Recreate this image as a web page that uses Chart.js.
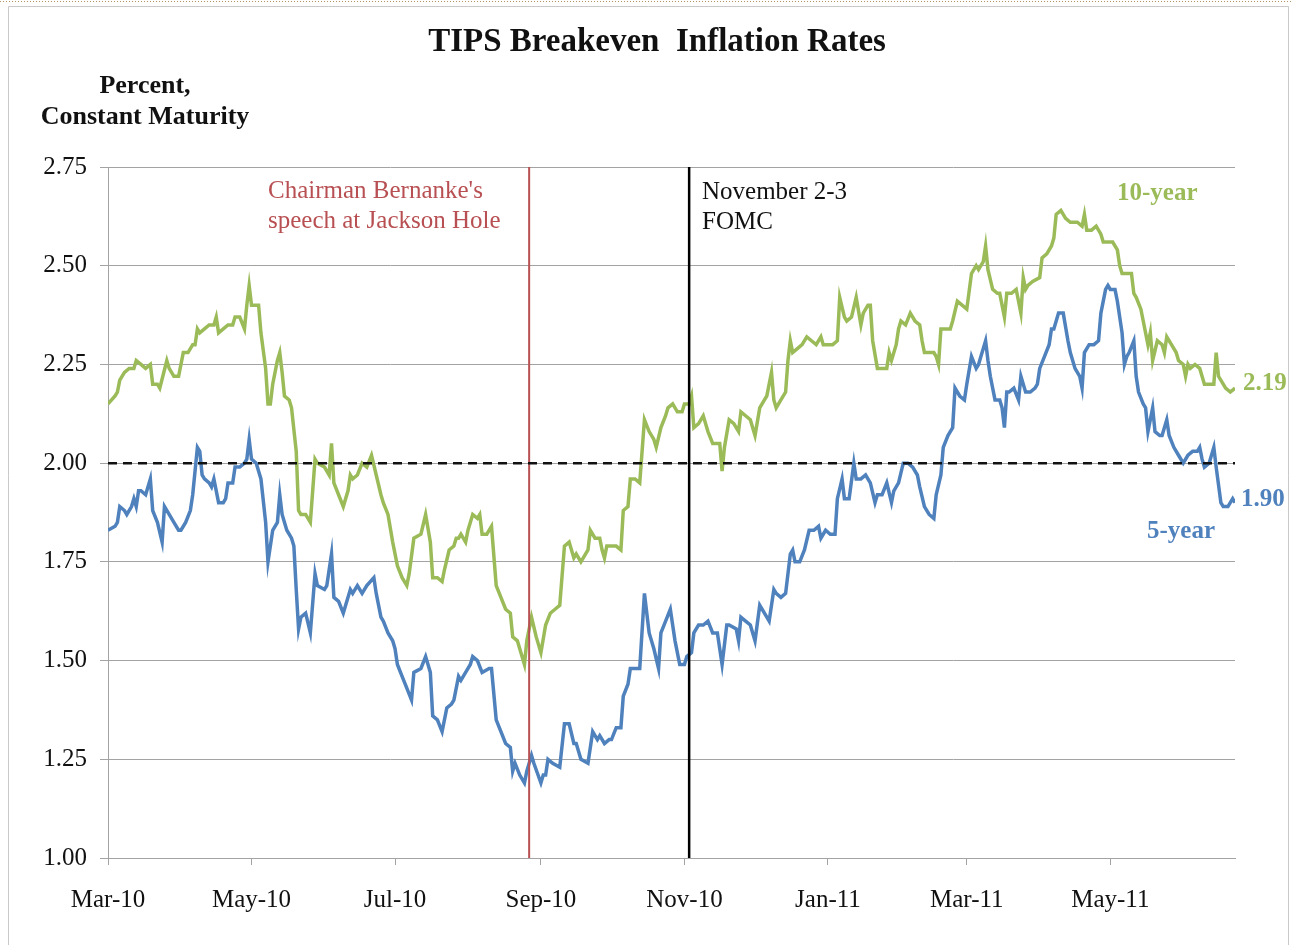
<!DOCTYPE html>
<html>
<head>
<meta charset="utf-8">
<title>TIPS Breakeven Inflation Rates</title>
<script src="https://cdn.jsdelivr.net/npm/chart.js@4.4.1/dist/chart.umd.min.js"></script>
<style>
    html, body { margin: 0; padding: 0; background: #fff; overflow: hidden; }
    #wrap { position: relative; width: 1293px; height: 945px; }
</style>
</head>
<body>
<div id="wrap"><canvas id="tipsChart"></canvas></div>
<script>
// Days are counted from 1 Mar 2010
const tickDays = [0, 61, 122, 184, 245, 306, 365, 426];
const tickLabels = ['Mar-10', 'May-10', 'Jul-10', 'Sep-10', 'Nov-10', 'Jan-11', 'Mar-11', 'May-11'];
const yMin = 1.00;
const yMax = 2.75;
const yStep = 0.25;
const lastDay = 479;

// 10-year breakeven
const tenYearDays = [0,3,4,5,7,9,11,12,14,16,18,19,21,22,25,26,28,30,32,34,36,37,38,39,41,43,45,46,47,49,
    51,53,54,56,58,59,60,61,62,64,65,67,68,69,70,72,73,74,75,77,78,80,81,82,84,86,88,89,92,94,
    95,96,98,100,102,103,104,106,108,110,112,114,116,117,119,121,123,125,127,128,130,133,135,137,138,140,142,143,145,147,
    148,149,150,152,153,155,157,158,159,161,163,165,167,169,171,172,174,175,177,178,180,182,184,186,188,190,192,194,196,198,
    199,201,204,205,207,209,210,211,212,214,216,218,219,221,222,224,226,228,230,232,233,235,237,238,240,242,244,245,247,248,
    249,251,253,255,257,259,260,261,262,264,266,268,269,271,273,275,277,279,280,282,283,284,286,288,289,290,291,293,295,297,
    299,301,303,304,306,308,310,311,313,314,316,318,320,321,323,324,325,327,328,330,331,332,333,335,336,337,339,341,343,345,
    346,347,349,351,352,353,354,356,358,359,361,363,365,367,369,370,372,373,374,376,378,379,381,382,384,386,388,389,390,391,
    393,396,397,399,401,402,403,405,407,409,410,412,414,415,416,418,420,422,423,425,427,429,430,431,433,435,436,437,439,440,
    441,442,443,444,446,448,449,450,452,454,455,457,458,459,460,462,464,465,466,469,470,471,472,474,475,477,479];
const tenYearValues = [2.15,2.17,2.18,2.21,2.23,2.24,2.24,2.26,2.25,2.24,2.25,2.20,2.20,2.19,2.26,2.24,2.22,2.22,2.28,2.28,2.30,2.30,2.34,2.33,2.34,2.35,2.35,2.37,2.33,2.34,
    2.35,2.35,2.37,2.37,2.34,2.40,2.45,2.40,2.40,2.40,2.33,2.24,2.15,2.15,2.20,2.26,2.28,2.23,2.17,2.16,2.14,2.03,1.88,1.87,1.87,1.85,2.01,2.00,1.99,1.97,
    2.05,1.95,1.92,1.89,1.93,1.97,1.96,1.97,2.00,1.99,2.02,1.97,1.92,1.90,1.87,1.80,1.74,1.71,1.69,1.72,1.81,1.82,1.87,1.80,1.71,1.71,1.70,1.73,1.78,1.79,
    1.81,1.81,1.82,1.80,1.83,1.87,1.86,1.87,1.82,1.82,1.84,1.69,1.66,1.63,1.62,1.56,1.55,1.53,1.49,1.55,1.61,1.56,1.52,1.59,1.62,1.63,1.64,1.79,1.80,1.76,
    1.77,1.75,1.78,1.83,1.81,1.81,1.78,1.76,1.79,1.79,1.79,1.78,1.88,1.89,1.96,1.96,1.95,2.11,2.08,2.06,2.04,2.09,2.12,2.14,2.15,2.13,2.13,2.15,2.15,2.17,
    2.09,2.10,2.12,2.08,2.05,2.05,2.05,1.98,2.04,2.11,2.10,2.08,2.13,2.12,2.11,2.07,2.14,2.16,2.17,2.23,2.16,2.14,2.16,2.18,2.26,2.31,2.28,2.29,2.30,2.32,
    2.31,2.30,2.32,2.30,2.30,2.30,2.31,2.42,2.37,2.36,2.37,2.42,2.35,2.38,2.40,2.40,2.31,2.24,2.24,2.24,2.24,2.28,2.26,2.30,2.34,2.36,2.35,2.38,2.36,2.35,
    2.31,2.28,2.28,2.28,2.27,2.25,2.34,2.34,2.34,2.36,2.41,2.40,2.39,2.48,2.50,2.49,2.51,2.55,2.49,2.44,2.43,2.43,2.37,2.43,2.43,2.44,2.38,2.47,2.44,2.45,
    2.46,2.47,2.52,2.53,2.55,2.57,2.63,2.64,2.62,2.61,2.61,2.61,2.60,2.63,2.59,2.59,2.60,2.58,2.56,2.56,2.56,2.54,2.50,2.48,2.48,2.48,2.43,2.42,2.39,2.36,
    2.33,2.30,2.33,2.26,2.31,2.30,2.28,2.32,2.30,2.28,2.26,2.25,2.22,2.25,2.24,2.25,2.24,2.22,2.20,2.20,2.20,2.28,2.22,2.20,2.19,2.18,2.19];

// 5-year breakeven
const fiveYearDays = [0,3,4,5,7,8,10,11,12,13,14,16,18,19,21,23,24,26,28,30,31,33,35,36,38,39,40,41,43,44,
    45,47,49,50,51,53,54,56,58,59,60,61,63,65,67,68,70,72,73,74,76,78,79,80,81,82,84,86,88,89,
    92,93,95,96,98,100,101,103,104,106,108,110,113,114,116,117,119,121,122,123,125,127,129,130,133,135,137,138,140,142,
    144,146,147,149,150,152,154,155,157,159,162,163,165,167,169,171,172,173,175,177,178,180,181,184,185,186,187,189,192,194,
    196,198,199,201,204,206,208,209,211,213,214,216,218,219,221,222,224,226,228,230,232,234,235,237,239,241,243,245,246,248,
    249,251,253,255,257,259,261,263,264,267,268,269,271,273,275,277,279,281,283,284,286,288,290,291,292,294,296,298,300,302,
    303,305,307,309,310,312,313,315,317,318,320,322,324,326,327,329,331,333,334,336,338,340,342,344,345,347,349,351,352,354,
    355,357,359,360,362,364,365,367,369,370,371,373,374,375,377,379,380,381,382,383,385,387,388,390,392,394,395,396,398,400,
    401,402,404,406,408,409,411,413,414,415,417,419,421,422,424,425,426,428,429,431,432,433,434,436,437,438,440,441,442,444,
    445,447,448,450,451,453,455,457,459,461,463,464,465,466,468,470,471,473,474,476,478,479];
const fiveYearValues = [1.83,1.84,1.85,1.89,1.88,1.87,1.89,1.91,1.89,1.93,1.93,1.92,1.96,1.88,1.85,1.80,1.89,1.87,1.85,1.83,1.83,1.85,1.88,1.92,2.04,2.03,1.97,1.96,1.95,1.94,
    1.96,1.90,1.90,1.91,1.95,1.95,1.99,1.99,2.00,2.01,2.06,2.01,2.00,1.96,1.85,1.75,1.83,1.85,1.92,1.87,1.83,1.81,1.79,1.68,1.58,1.61,1.62,1.57,1.72,1.69,
    1.68,1.69,1.77,1.66,1.65,1.62,1.64,1.68,1.67,1.69,1.67,1.69,1.71,1.67,1.61,1.60,1.57,1.55,1.53,1.49,1.46,1.43,1.40,1.47,1.48,1.51,1.47,1.36,1.35,1.32,
    1.38,1.39,1.40,1.46,1.45,1.47,1.49,1.51,1.50,1.47,1.48,1.48,1.35,1.32,1.29,1.28,1.22,1.24,1.21,1.19,1.22,1.26,1.24,1.19,1.21,1.21,1.25,1.24,1.23,1.34,
    1.34,1.29,1.29,1.25,1.24,1.32,1.30,1.31,1.29,1.30,1.30,1.33,1.33,1.41,1.44,1.48,1.48,1.48,1.67,1.57,1.53,1.48,1.57,1.60,1.63,1.55,1.49,1.49,1.51,1.52,
    1.57,1.59,1.59,1.60,1.57,1.57,1.49,1.59,1.59,1.58,1.55,1.61,1.60,1.59,1.55,1.64,1.62,1.60,1.68,1.67,1.66,1.67,1.77,1.78,1.75,1.75,1.78,1.83,1.83,1.84,
    1.81,1.83,1.82,1.82,1.91,1.96,1.91,1.91,2.00,1.96,1.96,1.97,1.95,1.90,1.92,1.92,1.95,1.90,1.93,1.95,2.00,2.00,1.99,1.97,1.94,1.89,1.87,1.86,1.92,1.97,
    2.04,2.07,2.09,2.19,2.17,2.16,2.20,2.27,2.24,2.25,2.27,2.31,2.26,2.22,2.16,2.16,2.14,2.09,2.18,2.18,2.19,2.16,2.22,2.18,2.18,2.19,2.20,2.24,2.27,2.30,
    2.34,2.34,2.38,2.38,2.31,2.28,2.24,2.22,2.19,2.28,2.30,2.30,2.31,2.38,2.44,2.45,2.44,2.44,2.41,2.33,2.25,2.27,2.28,2.31,2.22,2.18,2.15,2.14,2.08,2.14,
    2.08,2.07,2.07,2.11,2.07,2.04,2.02,2.00,2.02,2.03,2.03,2.04,2.01,1.99,2.00,2.04,1.99,1.90,1.89,1.89,1.91,1.90];

const referenceLevel = 2.00;
const jacksonHoleDay = 179;   // 27 Aug 2010
const fomcDay = 247;          // 3 Nov 2010

const green = '#9bbb59';
const blue = '#4f81bd';
const eventRed = '#b84f52';
const gridGray = '#a3a3a3';
const serif = "'Liberation Serif', 'Times New Roman', serif";

function toPoints(days, values) {
    return days.map((d, i) => ({ x: d, y: values[i] }));
}

const textPlugin = {
    id: 'tipsText',
    beforeDraw(chart) {
        const ctx = chart.ctx;
        ctx.save();
        ctx.fillStyle = '#fff';
        ctx.fillRect(0, 0, chart.width, chart.height);
        // outer frame
        ctx.strokeStyle = '#c9c9c9';
        ctx.lineWidth = 1;
        ctx.beginPath();
        ctx.moveTo(8.5, chart.height);
        ctx.lineTo(8.5, 6.5);
        ctx.lineTo(1288.5, 6.5);
        ctx.lineTo(1288.5, chart.height);
        ctx.stroke();
        ctx.strokeStyle = '#b3925a';
        ctx.setLineDash([1, 2]);
        ctx.beginPath();
        ctx.moveTo(0, 1.5);
        ctx.lineTo(chart.width, 1.5);
        ctx.stroke();
        ctx.restore();
    },
    afterDraw(chart) {
        const ctx = chart.ctx;
        ctx.save();
        ctx.textBaseline = 'middle';

        ctx.fillStyle = '#111';
        ctx.textAlign = 'center';
        ctx.font = 'bold 33px ' + serif;
        ctx.fillText('TIPS Breakeven  Inflation Rates', 657, 42);
        ctx.font = 'bold 26px ' + serif;
        ctx.fillText('Percent,', 145, 86);
        ctx.fillText('Constant Maturity', 145, 117);

        ctx.textAlign = 'left';
        ctx.font = '25px ' + serif;
        ctx.fillStyle = eventRed;
        ctx.fillText("Chairman Bernanke's", 268, 191);
        ctx.fillText('speech at Jackson Hole', 268, 221);
        ctx.fillStyle = '#111';
        ctx.fillText('November 2-3', 702, 192);
        ctx.fillText('FOMC', 702, 222);

        ctx.font = 'bold 25px ' + serif;
        ctx.fillStyle = green;
        ctx.fillText('10-year', 1117, 194);
        ctx.fillText(tenYearValues[tenYearValues.length - 1].toFixed(2), 1243, 384);
        ctx.fillStyle = blue;
        ctx.fillText(fiveYearValues[fiveYearValues.length - 1].toFixed(2), 1241, 500);
        ctx.fillText('5-year', 1147, 532);
        ctx.restore();
    }
};

new Chart(document.getElementById('tipsChart'), {
    type: 'line',
    data: {
        datasets: [
            {
                label: '2% reference',
                data: [{ x: 0, y: referenceLevel }, { x: lastDay, y: referenceLevel }],
                borderColor: '#111',
                borderWidth: 2.5,
                borderDash: [9, 6],
                pointRadius: 0,
                order: 0
            },
            {
                label: 'Jackson Hole',
                data: [{ x: jacksonHoleDay, y: yMin }, { x: jacksonHoleDay, y: yMax }],
                borderColor: eventRed,
                borderWidth: 2,
                pointRadius: 0,
                order: 1
            },
            {
                label: 'FOMC',
                data: [{ x: fomcDay, y: yMin }, { x: fomcDay, y: yMax }],
                borderColor: '#000',
                borderWidth: 2.5,
                pointRadius: 0,
                order: 1
            },
            {
                label: '5-year',
                data: toPoints(fiveYearDays, fiveYearValues),
                borderColor: blue,
                borderWidth: 3.5,
                pointRadius: 0,
                tension: 0,
                order: 2
            },
            {
                label: '10-year',
                data: toPoints(tenYearDays, tenYearValues),
                borderColor: green,
                borderWidth: 3.5,
                pointRadius: 0,
                tension: 0,
                order: 3
            }
        ]
    },
    options: {
        responsive: true,
        maintainAspectRatio: false,
        animation: false,
        layout: { padding: { top: 167, right: 58, bottom: 0, left: 0 } },
        plugins: {
            legend: { display: false },
            tooltip: { enabled: false },
            title: { display: false }
        },
        scales: {
            x: {
                type: 'linear',
                min: 0,
                max: lastDay,
                afterBuildTicks: (scale) => {
                    scale.ticks = tickDays.map(v => ({ value: v }));
                },
                afterFit: (scale) => { scale.height = 87; },
                ticks: {
                    autoSkip: false,
                    maxRotation: 0,
                    padding: 20,
                    color: '#111',
                    font: { family: serif, size: 25 },
                    callback: (value) => {
                        const i = tickDays.indexOf(value);
                        return i >= 0 ? tickLabels[i] : '';
                    }
                },
                grid: { drawOnChartArea: false, drawTicks: true, tickLength: 7, color: gridGray },
                border: { color: gridGray, width: 1 }
            },
            y: {
                min: yMin,
                max: yMax,
                afterFit: (scale) => { scale.width = 108; },
                ticks: {
                    stepSize: yStep,
                    padding: 13,
                    color: '#111',
                    font: { family: serif, size: 25 },
                    callback: (value) => value.toFixed(2)
                },
                grid: { color: gridGray, lineWidth: 1, drawTicks: true, tickLength: 8 },
                border: { color: gridGray, width: 1 }
            }
        }
    },
    plugins: [textPlugin]
});
</script>
</body>
</html>
